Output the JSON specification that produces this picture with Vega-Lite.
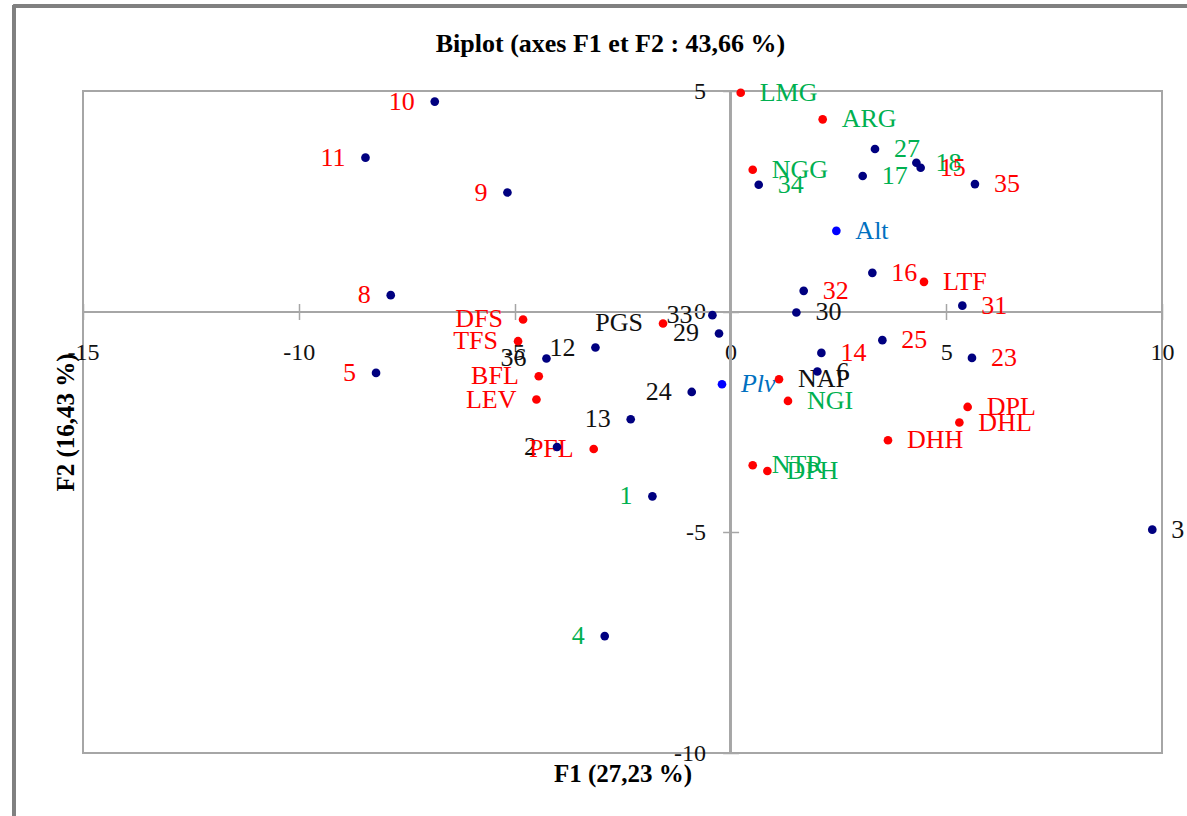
{
  "$schema": "https://vega.github.io/schema/vega-lite/v6.json",
  "width": 1079,
  "height": 662,
  "autosize": {"type": "none"},
  "padding": {"left": 83, "top": 91, "right": 25, "bottom": 63},
  "background": "white",
  "title": {"text": "Biplot (axes F1 et F2 : 43,66 %)", "font": "Liberation Serif", "fontSize": 26, "fontWeight": "bold", "color": "#000000", "anchor": "middle", "frame": "group", "dx": -12, "offset": -78.5, "baseline": "bottom"},
  "config": {"view": {"stroke": "#A6A6A6", "strokeWidth": 2}},
  "data": {"values": [
    {"nom": "10", "F1": -6.85, "F2": 4.76, "type": "Obs", "groupe": "G1"},
    {"nom": "11", "F1": -8.455, "F2": 3.49, "type": "Obs", "groupe": "G1"},
    {"nom": "9", "F1": -5.166, "F2": 2.70, "type": "Obs", "groupe": "G1"},
    {"nom": "8", "F1": -7.87, "F2": 0.374, "type": "Obs", "groupe": "G1"},
    {"nom": "5", "F1": -8.21, "F2": -1.388, "type": "Obs", "groupe": "G1"},
    {"nom": "27", "F1": 3.35, "F2": 3.685, "type": "Obs", "groupe": "G2"},
    {"nom": "18", "F1": 4.309, "F2": 3.374, "type": "Obs", "groupe": "G2"},
    {"nom": "15", "F1": 4.408, "F2": 3.261, "type": "Obs", "groupe": "G1"},
    {"nom": "34", "F1": 0.656, "F2": 2.875, "type": "Obs", "groupe": "G2"},
    {"nom": "17", "F1": 3.065, "F2": 3.073, "type": "Obs", "groupe": "G2"},
    {"nom": "35", "F1": 5.666, "F2": 2.891, "type": "Obs", "groupe": "G1"},
    {"nom": "16", "F1": 3.289, "F2": 0.88, "type": "Obs", "groupe": "G1"},
    {"nom": "32", "F1": 1.698, "F2": 0.472, "type": "Obs", "groupe": "G1"},
    {"nom": "31", "F1": 5.374, "F2": 0.136, "type": "Obs", "groupe": "G1"},
    {"nom": "30", "F1": 1.529, "F2": -0.018, "type": "Obs", "groupe": "G3"},
    {"nom": "33", "F1": -0.417, "F2": -0.079, "type": "Obs", "groupe": "G3"},
    {"nom": "29", "F1": -0.264, "F2": -0.494, "type": "Obs", "groupe": "G3"},
    {"nom": "36", "F1": -4.262, "F2": -1.061, "type": "Obs", "groupe": "G3"},
    {"nom": "12", "F1": -3.127, "F2": -0.812, "type": "Obs", "groupe": "G3"},
    {"nom": "24", "F1": -0.896, "F2": -1.819, "type": "Obs", "groupe": "G3"},
    {"nom": "13", "F1": -2.31, "F2": -2.438, "type": "Obs", "groupe": "G3"},
    {"nom": "2", "F1": -4.017, "F2": -3.066, "type": "Obs", "groupe": "G3"},
    {"nom": "25", "F1": 3.521, "F2": -0.646, "type": "Obs", "groupe": "G1"},
    {"nom": "14", "F1": 2.108, "F2": -0.934, "type": "Obs", "groupe": "G1"},
    {"nom": "23", "F1": 5.597, "F2": -1.048, "type": "Obs", "groupe": "G1"},
    {"nom": "6", "F1": 2.015, "F2": -1.356, "type": "Obs", "groupe": "G3"},
    {"nom": "1", "F1": -1.807, "F2": -4.184, "type": "Obs", "groupe": "G2"},
    {"nom": "4", "F1": -2.912, "F2": -7.351, "type": "Obs", "groupe": "G2"},
    {"nom": "3", "F1": 9.775, "F2": -4.939, "type": "Obs", "groupe": "G3"},
    {"nom": "LMG", "F1": 0.239, "F2": 4.96, "type": "Var", "groupe": "G2"},
    {"nom": "ARG", "F1": 2.138, "F2": 4.358, "type": "Var", "groupe": "G2"},
    {"nom": "NGG", "F1": 0.517, "F2": 3.215, "type": "Var", "groupe": "G2"},
    {"nom": "LTF", "F1": 4.485, "F2": 0.676, "type": "Var", "groupe": "G1"},
    {"nom": "DFS", "F1": -4.804, "F2": -0.177, "type": "Var", "groupe": "G1"},
    {"nom": "PGS", "F1": -1.561, "F2": -0.268, "type": "Var", "groupe": "G3"},
    {"nom": "TFS", "F1": -4.92, "F2": -0.669, "type": "Var", "groupe": "G1"},
    {"nom": "BFL", "F1": -4.44, "F2": -1.463, "type": "Var", "groupe": "G1"},
    {"nom": "LEV", "F1": -4.494, "F2": -1.991, "type": "Var", "groupe": "G1"},
    {"nom": "PFL", "F1": -3.167, "F2": -3.111, "type": "Var", "groupe": "G1"},
    {"nom": "NAP", "F1": 1.126, "F2": -1.531, "type": "Var", "groupe": "G3"},
    {"nom": "NGI", "F1": 1.334, "F2": -2.023, "type": "Var", "groupe": "G2"},
    {"nom": "DPL", "F1": 5.497, "F2": -2.159, "type": "Var", "groupe": "G1"},
    {"nom": "DHL", "F1": 5.305, "F2": -2.512, "type": "Var", "groupe": "G1"},
    {"nom": "DHH", "F1": 3.651, "F2": -2.914, "type": "Var", "groupe": "G1"},
    {"nom": "NTR", "F1": 0.517, "F2": -3.481, "type": "Var", "groupe": "G2"},
    {"nom": "DPH", "F1": 0.857, "F2": -3.61, "type": "Var", "groupe": "G2"},
    {"nom": "Alt", "F1": 2.455, "F2": 1.832, "type": "Sup", "groupe": "Sup"},
    {"nom": "Plv", "F1": -0.195, "F2": -1.644, "type": "Sup", "groupe": "Sup"}
  ]},
  "layer": [
    {
      "mark": {"type": "rule", "color": "#808080", "strokeWidth": 3, "clip": false},
      "encoding": {
        "y": {"datum": 6.93, "type": "quantitative", "scale": {"domain": [-10, 5], "nice": false, "zero": false}},
        "x": {"datum": -16.6, "type": "quantitative", "scale": {"domain": [-15, 10], "nice": false, "zero": false}},
        "x2": {"datum": 11}
      }
    },
    {
      "mark": {"type": "rule", "color": "#808080", "strokeWidth": 3, "clip": false},
      "encoding": {
        "x": {"datum": -16.6, "type": "quantitative", "scale": {"domain": [-15, 10], "nice": false, "zero": false}},
        "y": {"datum": 6.93, "type": "quantitative", "scale": {"domain": [-10, 5], "nice": false, "zero": false}},
        "y2": {"datum": -12}
      }
    },
    {
      "mark": {"type": "rule", "color": "#A6A6A6", "strokeWidth": 1.5},
      "encoding": {"y": {"datum": 0, "type": "quantitative", "scale": {"domain": [-10, 5], "nice": false, "zero": false}}}
    },
    {
      "mark": {"type": "rule", "color": "#A6A6A6", "strokeWidth": 1.5},
      "encoding": {"x": {"datum": 0, "type": "quantitative", "scale": {"domain": [-15, 10], "nice": false, "zero": false}}}
    },
    {
      "encoding": {
        "x": {"field": "F1", "type": "quantitative", "scale": {"domain": [-15, 10], "nice": false, "zero": false},
          "axis": {"orient": "bottom", "offset": -449.5, "values": [-15, -10, -5, 0, 5, 10], "domain": false, "grid": false, "ticks": true, "tickSize": 16, "tickColor": "#A6A6A6", "tickWidth": 1.5,
            "labelFont": "Liberation Serif", "labelFontSize": 24, "labelColor": "#111111", "labelPadding": 21, "labelFlush": false, "labelOverlap": false, "labelBound": false, "labelExpr": "'' + datum.value",
            "title": "F1 (27,23 %)", "titleFont": "Liberation Serif", "titleFontSize": 25, "titleFontWeight": "bold", "titleColor": "#000000", "titleY": 469.5, "titleBaseline": "middle"}},
        "y": {"field": "F2", "type": "quantitative", "scale": {"domain": [-10, 5], "nice": false, "zero": false},
          "axis": {"orient": "left", "offset": -655.6, "values": [-10, -5, 0, 5], "domain": false, "grid": false, "ticks": true, "tickSize": 16, "tickColor": "#A6A6A6", "tickWidth": 1.5,
            "labelFont": "Liberation Serif", "labelFontSize": 24, "labelColor": "#111111", "labelPadding": 17, "labelOverlap": false, "labelBound": false, "labelFlush": false, "labelExpr": "'' + datum.value",
            "title": "F2 (16,43 %)", "titleFont": "Liberation Serif", "titleFontSize": 25, "titleFontWeight": "bold", "titleColor": "#000000", "titleX": -673.6, "titleY": 331, "titleAngle": -90, "titleBaseline": "middle", "titleAlign": "center"}}
      },
      "layer": [
        {
          "transform": [{"filter": "datum.F1 < -0.22"}],
          "mark": {"type": "text", "font": "Liberation Serif", "fontSize": 26, "align": "right", "baseline": "middle", "dx": -20},
          "encoding": {
            "text": {"field": "nom"},
            "color": {"field": "groupe", "type": "nominal", "scale": {"domain": ["G1", "G2", "G3", "Sup"], "range": ["#FF0000", "#00B050", "#111111", "#0070C0"]}, "legend": null}
          }
        },
        {
          "transform": [{"filter": "datum.F1 >= -0.22 && datum.nom !== 'Plv'"}],
          "mark": {"type": "text", "font": "Liberation Serif", "fontSize": 26, "align": "left", "baseline": "middle", "dx": 19},
          "encoding": {
            "text": {"field": "nom"},
            "color": {"field": "groupe", "type": "nominal", "scale": {"domain": ["G1", "G2", "G3", "Sup"], "range": ["#FF0000", "#00B050", "#111111", "#0070C0"]}, "legend": null}
          }
        },
        {
          "transform": [{"filter": "datum.nom === 'Plv'"}],
          "mark": {"type": "text", "font": "Liberation Serif", "fontSize": 26, "fontStyle": "italic", "align": "left", "baseline": "middle", "dx": 19},
          "encoding": {
            "text": {"field": "nom"},
            "color": {"field": "groupe", "type": "nominal", "scale": {"domain": ["G1", "G2", "G3", "Sup"], "range": ["#FF0000", "#00B050", "#111111", "#0070C0"]}, "legend": null}
          }
        },
        {
          "mark": {"type": "circle", "size": 75, "opacity": 1, "strokeWidth": 0},
          "encoding": {
            "fill": {"field": "type", "type": "nominal", "scale": {"domain": ["Obs", "Var", "Sup"], "range": ["#000080", "#FF0000", "#0000FF"]}, "legend": null}
          }
        }
      ]
    }
  ]
}
